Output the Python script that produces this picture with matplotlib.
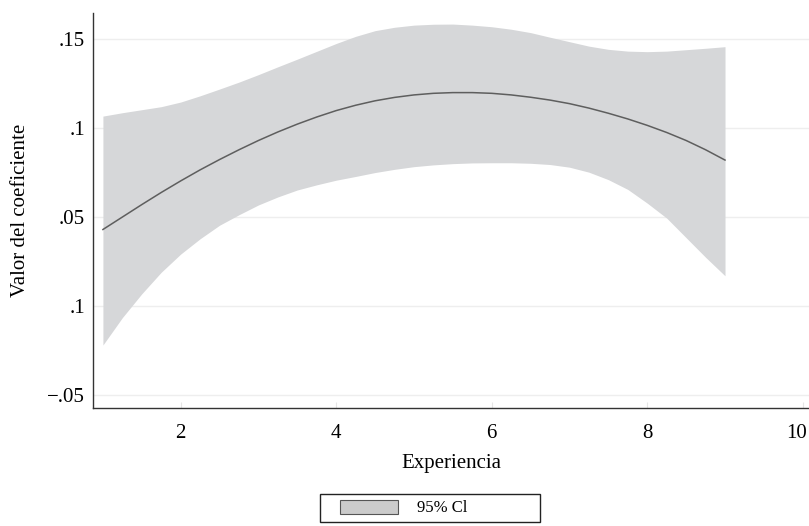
import matplotlib.pyplot as plt
import matplotlib.transforms as mtransforms
from matplotlib.patches import Patch, Rectangle

experiencia = [1.00, 1.25, 1.50, 1.75, 2.00, 2.25, 2.50, 2.75, 3.00, 3.25, 3.50,
               3.75, 4.00, 4.25, 4.50, 4.75, 5.00, 5.25, 5.50, 5.75, 6.00, 6.25,
               6.50, 6.75, 7.00, 7.25, 7.50, 7.75, 8.00, 8.25, 8.50, 8.75, 9.00]
coef = [0.0430, 0.0500, 0.0570, 0.0638, 0.0703, 0.0765, 0.0823, 0.0878, 0.0930,
        0.0978, 0.1022, 0.1062, 0.1098, 0.1128, 0.1153, 0.1172, 0.1186, 0.1195,
        0.1199, 0.1199, 0.1195, 0.1186, 0.1173, 0.1157, 0.1137, 0.1112, 0.1083,
        0.1051, 0.1015, 0.0975, 0.0930, 0.0878, 0.0820]
ci_upper = [0.1067, 0.1086, 0.1103, 0.1120, 0.1146, 0.1181, 0.1219, 0.1258, 0.1300,
            0.1344, 0.1387, 0.1431, 0.1475, 0.1515, 0.1547, 0.1566, 0.1578, 0.1583,
            0.1584, 0.1578, 0.1569, 0.1555, 0.1536, 0.1510, 0.1485, 0.1460, 0.1442,
            0.1432, 0.1429, 0.1432, 0.1440, 0.1448, 0.1457]
ci_lower = [-0.0219, -0.0065, 0.0069, 0.0190, 0.0292, 0.0378, 0.0454, 0.0513, 0.0568,
            0.0613, 0.0652, 0.0681, 0.0707, 0.0728, 0.0750, 0.0768, 0.0783, 0.0793,
            0.0800, 0.0804, 0.0805, 0.0805, 0.0802, 0.0795, 0.0780, 0.0752, 0.0710,
            0.0655, 0.0578, 0.0494, 0.0384, 0.0274, 0.0170]

y_ticks = [-0.05, 0, 0.05, 0.1, 0.15]
y_labels = ['\u2212.05', '.1', '.05', '.1', '.15']
x_ticks = [2, 4, 6, 8, 10]

plt.rcParams['font.family'] = ['Liberation Serif', 'DejaVu Serif']
plt.rcParams['font.size'] = 15

W, H = 809, 526
fig = plt.figure(figsize=(W / 100, H / 100), dpi=100)
ax = fig.add_axes([0.1153, 0.2249, 0.8847, 0.751])

ax.fill_between(experiencia, ci_lower, ci_upper, color='#d6d7d9', linewidth=0, zorder=2)
ax.plot(experiencia, coef, color='#5e5e5e', linewidth=1.1, zorder=3)

ax.set_xlim(0.876, 10.08)
ax.set_ylim(-0.0571, 0.1648)
ax.set_xticks(x_ticks)
ax.set_yticks(y_ticks)
ax.set_yticklabels(y_labels)
ax.grid(axis='y', color='#eeeeee', linewidth=1.0, zorder=1)

for side in ['top', 'right']:
    ax.spines[side].set_visible(False)
for side in ['left', 'bottom']:
    ax.spines[side].set_color('#333333')
    ax.spines[side].set_linewidth(1.0)

ax.tick_params(axis='y', length=0, pad=6, labelsize=15)
ax.tick_params(axis='x', length=4, direction='in', color='#e6e6e6', pad=12, labelsize=15)

# last label sits a bit left of its tick in the original
last = ax.get_xticklabels()[-1]
last.set_transform(last.get_transform() +
                   mtransforms.ScaledTranslation(-6 / 100, 0, fig.dpi_scale_trans))

ax.set_xlabel('Experiencia', fontsize=15)
ax.xaxis.set_label_coords(0.5, -0.142)
ax.xaxis.label.set_va('center')
ax.set_ylabel('Valor del coeficiente', fontsize=15)
ax.yaxis.set_label_coords(-0.102, 0.5)
ax.yaxis.label.set_va('center')

# legend box
fig.patches.append(Rectangle((320 / W, 4 / H), 220 / W, 28 / H, transform=fig.transFigure,
                             facecolor='white', edgecolor='#222222', linewidth=1.0))
handle = Patch(facecolor='#cbcbcb', edgecolor='#555555', linewidth=0.8)
fig.legend([handle], ['95% Cl'], loc='center left',
           bbox_to_anchor=(340 / W, 1 - 508 / H), frameon=False,
           handlelength=3.5, handleheight=0.9, handletextpad=1.1,
           borderpad=0, borderaxespad=0, fontsize=12)

fig.savefig('out.png', dpi=100)
